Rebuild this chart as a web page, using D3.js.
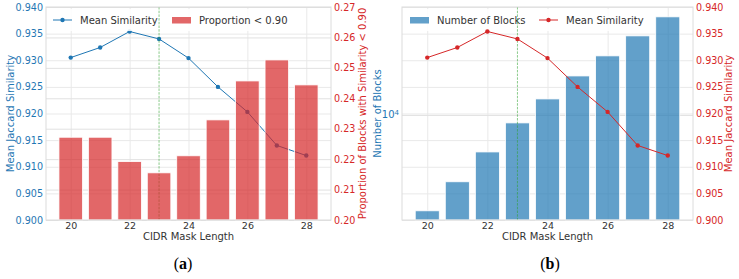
<html lang="en">
<head>
  <meta charset="UTF-8"/>
  <title>CIDR mask length</title>
  <script src="https://cdn.jsdelivr.net/npm/d3@7"></script>
  <style>
body {
  margin: 0;
  background: #fff;
  font-family: 'DejaVu Sans', sans-serif;
}
svg {
  display: block;
}
text {
  font-size: 9.5px;
}
.grid path {
  stroke-width: 0;
}
.grid .tick line {
  stroke: #e9e9e9;
  stroke-width: 1;
}
.grid2 .tick line {
  stroke: #e1e1e1;
}
.ticks path, .ticks line {
  display: none;
}
.xt text, .label {
  fill: #333;
}
.frame {
  fill: none;
  stroke: #dcdcdc;
}
.caption {
  font-family: 'Liberation Serif', serif;
  font-size: 16px;
  fill: #000;
}
  </style>
</head>
<body>
<svg width="739" height="279"></svg>
<script>

const masks = [20, 21, 22, 23, 24, 25, 26, 27, 28];
const meanSim = [0.9305, 0.9324, 0.9354, 0.9340, 0.9304, 0.9250, 0.9203, 0.9140, 0.9121];
const propBelow = [0.2272, 0.2272, 0.2192, 0.2155, 0.2211, 0.2329, 0.2457, 0.2526, 0.2444];
const numBlocks = [1830, 3060, 5190, 8680, 13270, 19940, 28450, 40540, 56780];

const simTicks = [0.900, 0.905, 0.910, 0.915, 0.920, 0.925, 0.930, 0.935, 0.940];
const propTicks = [0.20, 0.21, 0.22, 0.23, 0.24, 0.25, 0.26, 0.27];
const xTicks = [20, 22, 24, 26, 28];
const logTicks = [10000];
const cutoff = 23;

const blue = '#1f77b4';
const red = '#d62728';
const green = '#2ca02c';

const svg = d3.select('svg');
const plotTop = 7, plotBot = 220;
const xDomain = [19.16, 28.84];

// shared bits for both panels
function panel(left, right) {
  const g = svg.append('g');
  const x = d3.scaleLinear().domain(xDomain).range([left, right]);

  // vertical grid
  g.append('g')
    .attr('class', 'grid')
    .attr('transform', `translate(0, ${plotBot})`)
    .call(d3.axisBottom(x).tickValues(xTicks).tickSize(-(plotBot - plotTop)).tickFormat(''));

  g.append('g')
    .attr('class', 'ticks xt')
    .attr('transform', `translate(0, ${plotBot})`)
    .call(d3.axisBottom(x).tickValues(xTicks).tickSize(0).tickPadding(2))
    .selectAll('text').style('font-size', '9.5px').style('font-family', 'DejaVu Sans');

  g.append('text')
    .attr('class', 'label')
    .attr('x', (left + right) / 2)
    .attr('y', 240)
    .attr('text-anchor', 'middle')
    .style('font-size', '10px')
    .text('CIDR Mask Length');

  return { g, x };
}

function hgrid(g, scale, ticks, left, right, cls) {
  g.append('g')
    .attr('class', 'grid ' + cls)
    .attr('transform', `translate(${left}, 0)`)
    .call(d3.axisLeft(scale).tickValues(ticks).tickSize(-(right - left)).tickFormat(''));
}

function yLabels(g, scale, ticks, xpos, side, color, fmt) {
  const axis = side === 'left' ? d3.axisLeft(scale) : d3.axisRight(scale);
  const a = g.append('g')
    .attr('class', 'ticks')
    .attr('transform', `translate(${xpos}, 0)`)
    .call(axis.tickValues(ticks).tickSize(0).tickPadding(3).tickFormat(fmt));
  a.selectAll('text')
    .style('fill', color)
    .style('font-size', '9.6px')
    .style('font-family', 'DejaVu Sans');
  return a;
}

function yTitle(g, text, xpos, color) {
  g.append('text')
    .attr('transform', `translate(${xpos}, ${(plotTop + plotBot) / 2}) rotate(-90)`)
    .attr('text-anchor', 'middle')
    .attr('dy', '0.35em')
    .style('fill', color)
    .style('font-size', '10px')
    .text(text);
}

function dashedCut(g, x) {
  g.append('line')
    .attr('x1', x(cutoff)).attr('x2', x(cutoff))
    .attr('y1', plotTop).attr('y2', plotBot)
    .attr('stroke', green)
    .attr('stroke-opacity', 0.55)
    .attr('stroke-width', 1)
    .attr('stroke-dasharray', '2.5 1.2');
}

function simLine(g, x, y, color) {
  const line = d3.line().x((d, i) => x(masks[i])).y(d => y(d));
  g.append('path')
    .datum(meanSim)
    .attr('d', line)
    .attr('fill', 'none')
    .attr('stroke', color)
    .attr('stroke-width', 1);
  g.selectAll(null)
    .data(meanSim)
    .enter()
    .append('circle')
    .attr('cx', (d, i) => x(masks[i]))
    .attr('cy', d => y(d))
    .attr('r', 2.2)
    .attr('fill', color);
}

function bars(g, x, y, values, color, base) {
  const w = x(0.8) - x(0);
  g.selectAll(null)
    .data(values)
    .enter()
    .append('rect')
    .attr('x', (d, i) => x(masks[i]) - w / 2)
    .attr('y', d => y(d))
    .attr('width', w)
    .attr('height', d => base - y(d))
    .attr('fill', color)
    .attr('fill-opacity', 0.7)
    .attr('stroke', '#fff')
    .attr('stroke-width', 0.8);
}

function legend(g, x0, items) {
  g.append('rect')
    .attr('x', x0).attr('y', 9)
    .attr('width', items.width).attr('height', 22)
    .attr('rx', 2)
    .attr('fill', '#fff')
    .attr('fill-opacity', 0.85);
  items.list.forEach(it => {
    if (it.type === 'patch') {
      g.append('rect')
        .attr('x', it.x).attr('y', 17)
        .attr('width', 19).attr('height', 6.5)
        .attr('fill', it.color).attr('fill-opacity', 0.7);
    } else {
      g.append('line')
        .attr('x1', it.x).attr('x2', it.x + 19)
        .attr('y1', 20).attr('y2', 20)
        .attr('stroke', it.color).attr('stroke-width', 1);
      g.append('circle')
        .attr('cx', it.x + 9.5).attr('cy', 20).attr('r', 2.2)
        .attr('fill', it.color);
    }
    g.append('text')
      .attr('x', it.x + 27)
      .attr('y', 20)
      .attr('dy', '0.35em')
      .attr('fill', '#333')
      .style('font-size', '10px')
      .text(it.label);
  });
}

// ---------- (a) ----------
const A = panel(46, 331);
const yA = d3.scaleLinear().domain([0.900, 0.940]).range([plotBot, plotTop]);
const yA2 = d3.scaleLinear().domain([0.20, 0.27]).range([plotBot, plotTop]);

hgrid(A.g, yA, simTicks, 46, 331, '');
hgrid(A.g, yA2, propTicks, 46, 331, 'grid2');
simLine(A.g, A.x, yA, blue);
legend(A.g, 48, { width: 246, list: [
  { type: 'line', x: 53, color: blue, label: 'Mean Similarity' },
  { type: 'patch', x: 172, color: red, label: 'Proportion < 0.90' }
]});
dashedCut(A.g, A.x);
bars(A.g, A.x, yA2, propBelow, red, plotBot);

A.g.append('rect').attr('class', 'frame')
  .attr('x', 46).attr('y', plotTop).attr('width', 331 - 46).attr('height', plotBot - plotTop);

yLabels(A.g, yA, simTicks, 46, 'left', blue, d3.format('.3f'));
yLabels(A.g, yA2, propTicks, 331, 'right', red, d3.format('.2f'));
yTitle(A.g, 'Mean Jaccard Similarity', 10, blue);
yTitle(A.g, 'Proportion of Blocks with Similarity < 0.90', 362, red);

// ---------- (b) ----------
const B = panel(402, 693);
const yB = d3.scaleLog().domain([1555, 67600]).range([plotBot, plotTop]);
const yB2 = d3.scaleLinear().domain([0.900, 0.940]).range([plotBot, plotTop]);

hgrid(B.g, yB, logTicks, 402, 693, 'grid2');
hgrid(B.g, yB2, simTicks, 402, 693, '');
legend(B.g, 404, { width: 236, list: [
  { type: 'patch', x: 410, color: blue, label: 'Number of Blocks' },
  { type: 'line', x: 539, color: red, label: 'Mean Similarity' }
]});
bars(B.g, B.x, yB, numBlocks, blue, plotBot);
dashedCut(B.g, B.x);
simLine(B.g, B.x, yB2, red);

B.g.append('rect').attr('class', 'frame')
  .attr('x', 402).attr('y', plotTop).attr('width', 693 - 402).attr('height', plotBot - plotTop);

// log tick 10^4 with superscript
const lt = B.g.append('text')
  .attr('x', 399)
  .attr('y', yB(logTicks[0]))
  .attr('dy', '0.35em')
  .attr('text-anchor', 'end')
  .style('fill', blue)
  .style('font-size', '10px');
lt.append('tspan').text('10');
lt.append('tspan').attr('dy', '-0.45em').style('font-size', '7px').text('4');

yLabels(B.g, yB2, simTicks, 693, 'right', red, d3.format('.3f'));
yTitle(B.g, 'Number of Blocks', 377, blue);
yTitle(B.g, 'Mean Jaccard Similarity', 728, red);

// captions
[['a', 183], ['b', 550]].forEach(c => {
  const t = svg.append('text')
    .attr('class', 'caption')
    .attr('x', c[1])
    .attr('y', 269)
    .attr('text-anchor', 'middle');
  t.append('tspan').text('(');
  t.append('tspan').style('font-weight', 'bold').text(c[0]);
  t.append('tspan').text(')');
});

</script>
</body>
</html>
